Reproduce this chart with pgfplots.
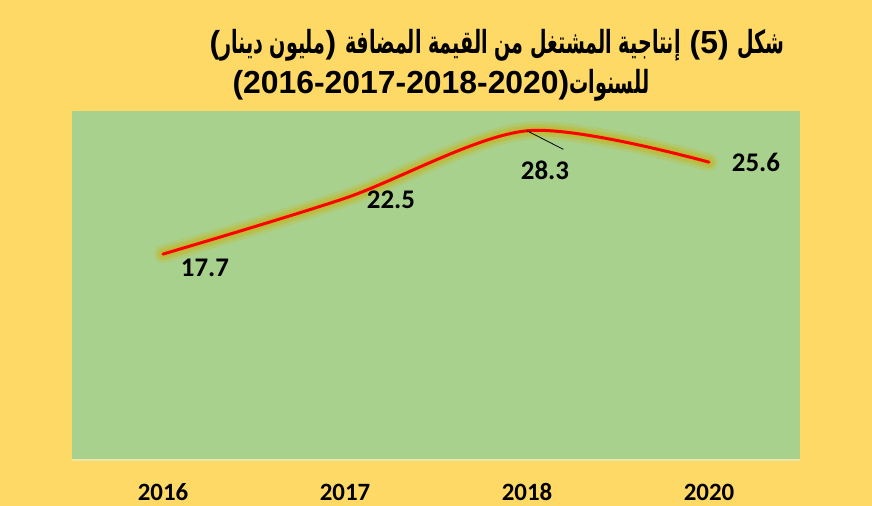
\documentclass[border=0pt]{standalone}
\usepackage{pgfplots}
\pgfplotsset{compat=1.18}
\usepackage{pgfplotstable}
\usepackage{fontspec}
\setmainfont{Carlito}
\newfontfamily\arabicfont[Script=Arabic]{DejaVu Sans}
\newfontfamily\latinb{Liberation Sans}
\TeXXeTstate=1
\definecolor{bgyellow}{HTML}{FFD966}
\definecolor{plotgreen}{HTML}{A9D18E}
\definecolor{gridgreen}{HTML}{B6D99E}
\definecolor{glow}{HTML}{BDBB35}
\definecolor{axisline}{HTML}{EFE6A8}
\newcommand{\ar}[1]{\scalebox{0.6}[1]{\arabicfont\beginR #1\endR}}

\pgfplotstableread{
x y dx dy
0 17.7 42 -14
1 22.5 46 -2
2 28.3 18 -40
3 25.6 47 0
}\datatable

\begin{document}
\begin{tikzpicture}
\useasboundingbox (0,0) rectangle (872bp,506bp);
\fill[bgyellow] (0,0) rectangle (872bp,506bp);
\begin{axis}[
  at={(72bp,46bp)}, anchor=south west, scale only axis,
  width=728bp, height=349bp,
  xmin=-0.5, xmax=3.5, ymin=0, ymax=30,
  xtick={0,1,2,3}, xticklabels={2016,2017,2018,2020},
  ytick={0,5,...,30}, yticklabels={},
  ymajorgrids, grid style={gridgreen, line width=1bp},
  axis background/.style={fill=plotgreen},
  axis x line*=bottom, axis y line=none,
  x axis line style={axisline, line width=1.5bp, -},
  xtick style={draw=none}, ytick style={draw=none},
  xticklabel style={font=\bfseries\fontsize{25}{25}\selectfont, anchor=base, inner sep=0pt, yshift=-40bp},
  clip=false
]
\addplot[glow, opacity=0.3, line width=18bp, smooth, tension=0.5, line cap=round, line join=round] table[x=x,y=y]{\datatable};
\addplot[glow, opacity=0.55, line width=12bp, smooth, tension=0.5, line cap=round, line join=round] table[x=x,y=y]{\datatable};
\addplot[glow, opacity=0.8, line width=7bp, smooth, tension=0.5, line cap=round, line join=round] table[x=x,y=y]{\datatable};
\addplot[red, line width=3bp, smooth, tension=0.5, line cap=round] table[x=x,y=y]{\datatable};
\draw[black, line width=0.8bp] (axis cs:2,28.3) -- (axis cs:2.2,26.7);
\addplot[draw=none, mark=none, nodes near coords, point meta=explicit symbolic,
  visualization depends on={\thisrow{dx}\as\dx},
  visualization depends on={\thisrow{dy}\as\dy},
  every node near coord/.append style={anchor=center, xshift=\dx bp, yshift=\dy bp, font=\bfseries\fontsize{27}{27}\selectfont, text=black}]
  table[x=x,y=y,meta=y]{\datatable};
\end{axis}
\node[font=\bfseries\fontsize{32}{34}\selectfont, inner sep=0pt] at (497bp,461bp) {\beginL\latinb(\ar{مليون دينار}\latinb) \ar{إنتاجية المشتغل من القيمة المضافة}\latinb{} (5) \ar{شكل}\endL};
\node[font=\bfseries\fontsize{32}{34}\selectfont, inner sep=0pt] at (441bp,421bp) {\beginL\latinb(2016-2017-2018-2020)\ar{للسنوات}\endL};
\end{tikzpicture}
\end{document}
